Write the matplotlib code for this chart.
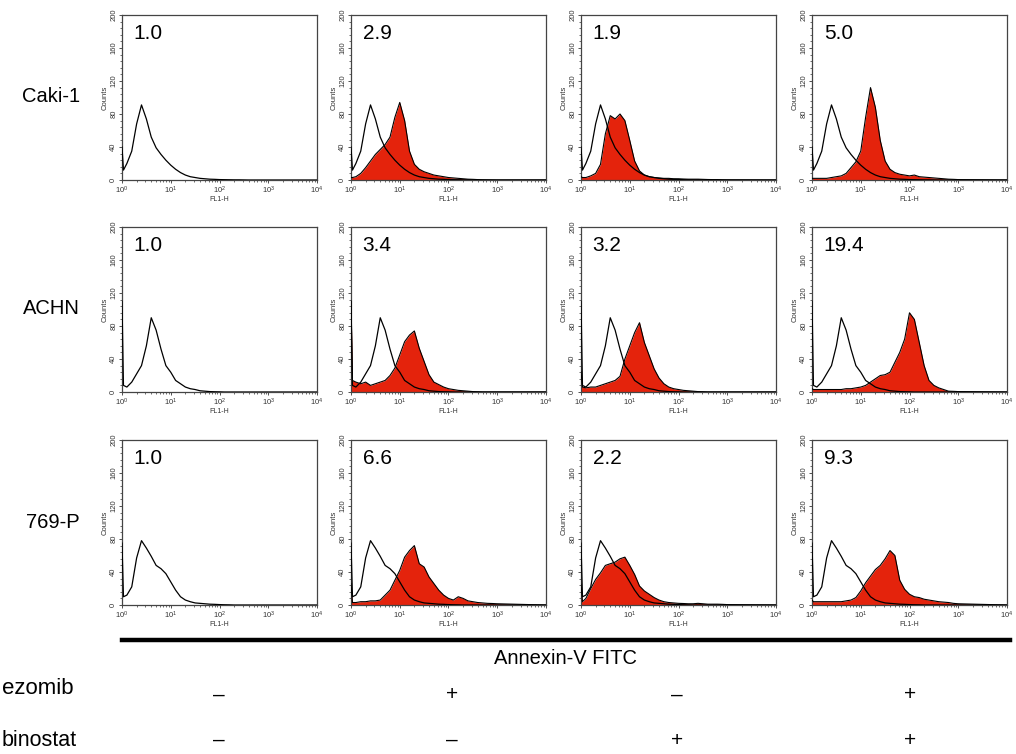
import numpy as np
import matplotlib
matplotlib.use('Agg')
import matplotlib.pyplot as plt
from matplotlib.ticker import MultipleLocator, LogLocator, NullFormatter

plt.rcParams['font.family'] = ['Liberation Sans', 'DejaVu Sans']

# log10(FL1-H) positions of the histogram readings
LOG_GRID = [0.0, 0.03, 0.1, 0.2, 0.3, 0.4, 0.5, 0.6, 0.7, 0.8, 0.9, 1.0,
            1.1, 1.2, 1.3, 1.4, 1.5, 1.6, 1.7, 1.8, 1.9, 2.0,
            2.1, 2.2, 2.3, 2.4, 2.5, 2.6, 2.7, 2.8, 2.9, 3.0, 4.0]

cell_lines = ['Caki-1', 'ACHN', '769-P']

# untreated control histograms (open curve), one per cell line
caki_ctrl = [40, 12, 20, 35, 68, 91, 74, 52, 39, 31, 24, 18,
             13, 9, 6, 4, 3, 2, 1.5, 1, 0.8, 0.5,
             0.4, 0.3, 0.2, 0.2, 0.1, 0, 0, 0, 0, 0, 0]
achn_ctrl = [110, 8, 6, 12, 22, 32, 56, 90, 75, 52, 32, 24,
             14, 10, 6, 4, 3, 1.5, 1, 0.5, 0.3, 0.2,
             0, 0, 0, 0, 0, 0, 0, 0, 0, 0, 0]
p769_ctrl = [75, 10, 12, 22, 57, 78, 69, 59, 48, 44, 38, 28,
             18, 10, 6, 4, 2.5, 2, 1.5, 1, 0.8, 0.5,
             0.3, 0.2, 0, 0, 0, 0, 0, 0, 0, 0, 0]

# treated histograms (red fill): bortezomib / panobinostat / combination
caki_bort = [3, 3, 4, 8, 15, 23, 31, 37, 43, 52, 76, 94,
             72, 35, 19, 13, 10, 8, 6, 5, 4, 3,
             2.5, 2, 1.5, 1, 0.8, 0.5, 0.3, 0.2, 0.1, 0, 0]
caki_pano = [4, 3, 3, 5, 8, 19, 56, 78, 74, 80, 72, 48,
             23, 11, 6, 4, 3, 2.5, 2, 2, 1.5, 1.5,
             1.2, 1, 1, 1, 0.8, 0.6, 0.5, 0.5, 0.3, 0.2, 0]
caki_combo = [2, 2, 2, 2, 2, 3, 4, 5, 8, 15, 22, 35,
              76, 112, 88, 48, 23, 13, 9, 7, 6, 5,
              6, 4, 3.5, 3, 2.5, 2, 1.5, 1, 0.8, 0.5, 0]

achn_bort = [110, 14, 12, 10, 12, 8, 10, 12, 14, 20, 29, 45,
             61, 69, 74, 53, 37, 21, 12, 9, 6, 4,
             3, 2, 1.5, 1, 0.5, 0.3, 0, 0, 0, 0, 0]
achn_pano = [25, 6, 5, 6, 6, 8, 10, 12, 14, 19, 40, 56,
             72, 84, 60, 44, 28, 17, 10, 6, 4, 3,
             2, 1.5, 1, 0.5, 0.3, 0, 0, 0, 0, 0, 0]
achn_combo = [4, 3, 3, 3, 3, 3, 3, 3, 4, 4, 5, 6,
              8, 12, 16, 20, 21, 24, 36, 48, 64, 96,
              88, 60, 32, 14, 8, 5, 3, 1, 0.8, 0.5, 0]

p769_bort = [26, 3, 3, 4, 4, 5, 5, 6, 12, 18, 30, 42,
             58, 66, 72, 50, 46, 34, 26, 18, 12, 8,
             6, 10, 8, 5, 4, 3, 2.5, 2, 1.8, 1.5, 0]
p769_pano = [25, 4, 8, 20, 31, 39, 48, 50, 52, 56, 58, 48,
             37, 23, 17, 13, 9, 6, 4, 3, 2.5, 2,
             1.8, 1.5, 1.5, 2, 1.5, 1, 1, 1, 0.8, 0.5, 0]
p769_combo = [6, 4, 4, 4, 4, 4, 4, 4, 5, 6, 9, 17,
              27, 35, 43, 48, 56, 66, 60, 30, 19, 13,
              10, 9, 7, 6, 5, 4, 3.5, 3, 2, 1.5, 0]

controls = [caki_ctrl, achn_ctrl, p769_ctrl]
treated = [[None, caki_bort, caki_pano, caki_combo],
           [None, achn_bort, achn_pano, achn_combo],
           [None, p769_bort, p769_pano, p769_combo]]

fold_change = [['1.0', '2.9', '1.9', '5.0'],
               ['1.0', '3.4', '3.2', '19.4'],
               ['1.0', '6.6', '2.2', '9.3']]

# the figure is cropped at the left, only the ends of the drug names show
drug_rows = ['ezomib', 'binostat']
bortezomib = ['\u2013', '+', '\u2013', '+']
panobinostat = ['\u2013', '\u2013', '+', '+']

RED = '#e4230c'
W, H = 1016, 754

col_left = [122, 351, 581, 812]
row_top = [15, 227, 440]
ax_w, ax_h = 195, 165

fig = plt.figure(figsize=(W / 100, H / 100), dpi=100)


def draw_panel(ax, ctrl, trt, label):
    x = 10 ** np.array(LOG_GRID)
    if trt is not None:
        ax.fill_between(x, trt, color=RED, lw=0, zorder=2)
        ax.plot(x, trt, color='black', lw=0.8, zorder=3)
    ax.plot(x, ctrl, color='black', lw=0.9, zorder=4)

    ax.set_xscale('log')
    ax.set_xlim(1, 1e4)
    ax.set_ylim(0, 200)
    ax.set_yticks([0, 40, 80, 120, 160, 200])
    ax.yaxis.set_minor_locator(MultipleLocator(8))
    ax.xaxis.set_major_locator(LogLocator(base=10, numticks=10))
    ax.xaxis.set_minor_locator(LogLocator(base=10, subs=np.arange(2, 10), numticks=10))
    ax.xaxis.set_minor_formatter(NullFormatter())
    ax.tick_params(axis='both', which='major', direction='out', length=2.5,
                   width=0.6, labelsize=5.5, pad=1, colors='#333333')
    ax.tick_params(axis='both', which='minor', direction='out', length=1.5,
                   width=0.5, colors='#333333')
    ax.tick_params(axis='y', labelrotation=90)
    for lab in ax.get_yticklabels():
        lab.set_va('center')
    ax.set_xlabel('FL1-H', fontsize=5, labelpad=0, color='#333333')
    ax.set_ylabel('Counts', fontsize=5.5, labelpad=1, color='#333333')
    for sp in ax.spines.values():
        sp.set_linewidth(0.9)
        sp.set_color('#444444')
    ax.text(0.06, 0.89, label, transform=ax.transAxes, fontsize=15,
            ha='left', va='center')


for r in range(3):
    for c in range(4):
        left = col_left[c] / W
        bottom = 1 - (row_top[r] + ax_h) / H
        ax = fig.add_axes([left, bottom, ax_w / W, ax_h / H])
        draw_panel(ax, controls[r], treated[r][c], fold_change[r][c])
    fig.text(80 / W, 1 - (row_top[r] + 82) / H, cell_lines[r],
             fontsize=14.5, ha='right', va='center')

# bottom bar and axis title
fig.add_artist(plt.Line2D([122 / W, 1010 / W], [1 - 640 / H, 1 - 640 / H],
                          color='black', lw=3.2, transform=fig.transFigure))
fig.text(565 / W, 1 - 659 / H, 'Annexin-V FITC', fontsize=14.5,
         ha='center', va='center')

# treatment rows
fig.text(2 / W, 1 - 688 / H, drug_rows[0], fontsize=16, ha='left', va='center')
fig.text(2 / W, 1 - 740 / H, drug_rows[1], fontsize=15.5, ha='left', va='center')
sign_x = [219, 452, 677, 910]
for i in range(4):
    fig.text(sign_x[i] / W, 1 - 695 / H, bortezomib[i], fontsize=15,
             ha='center', va='center')
    fig.text(sign_x[i] / W, 1 - 740 / H, panobinostat[i], fontsize=15,
             ha='center', va='center')

fig.savefig('out.png', dpi=100)
